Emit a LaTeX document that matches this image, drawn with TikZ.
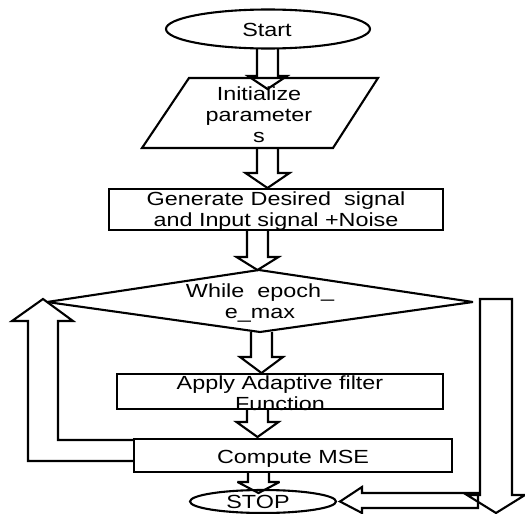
\documentclass[tikz,border=0pt]{standalone}
\usepackage{fontspec}
\setmainfont{Liberation Sans}[FakeStretch=1.23]
\usetikzlibrary{shapes.geometric}
\tikzset{
  ln/.style={line width=2.1pt, line join=miter, miter limit=4},
  shp/.style={ln, draw, inner sep=0pt, outer sep=0pt},
  txt/.style={inner sep=0pt, align=center, font=\fontsize{19}{21}\selectfont},
}
% block arrow pointing down: x, ytop, half shaft, y head base, half head, y tip
\newcommand\blkdown[6]{%
  \draw[ln] (#1-#3,#2) -- (#1-#3,#4) -- (#1-#5,#4) -- (#1,#6) -- (#1+#5,#4) -- (#1+#3,#4) -- (#1+#3,#2);}
\begin{document}
\begin{tikzpicture}[x=1pt,y=-1pt]
\useasboundingbox (0,0) rectangle (525,514);
\fill[white] (0,0) rectangle (525,514);

% shapes
\node[shp, ellipse, minimum width=204, minimum height=39] (start) at (268,29) {};
\coordinate (pa) at (189,78); \coordinate (pb) at (378,78);
\coordinate (pc) at (333,148); \coordinate (pd) at (142,148);
\draw[ln] (pa) -- (pb) -- (pc) -- (pd) -- cycle;
\node[shp, rectangle, minimum width=334, minimum height=41] (gen) at (276,209.5) {};
\coordinate (dt) at (259,270); \coordinate (dl) at (47,302);
\coordinate (db) at (260,332); \coordinate (dr) at (473,302);
\draw[ln] (dt) -- (dr) -- (db) -- (dl) -- cycle;
\node[shp, rectangle, minimum width=326, minimum height=35] (apply) at (280,391.5) {};
\node[shp, rectangle, minimum width=318, minimum height=33] (mse) at (293,455.5) {};
\node[shp, ellipse, minimum width=146, minimum height=23] (stop) at (263,501.5) {};

% texts
\node[txt] (tstart) at (267,30) {Start};
\node[txt] (tinit) at (259,114.5) {Initialize\\parameter\\s};
\node[txt] (tgen) at (276,211.5) {Generate Desired\ \ signal\\and Input signal +Noise};
\node[txt] (twhile) at (260,303) {While\ \ epoch\_\\e\_max};
\node[txt] (tapply) at (280,393.5) {Apply Adaptive filter\\Function};
\node[txt] (tmse) at (293,458.5) {Compute MSE};
\node[txt] (tstop) at (258,502) {STOP};

% block arrows down the middle
\blkdown{267.5}{48.5}{10.5}{76}{19.5}{89}
\blkdown{267.5}{148}{10.5}{173}{22}{188}
\blkdown{257.5}{230}{10.5}{257}{21}{270}
\blkdown{261.5}{332}{10.5}{357}{21.5}{373}
\blkdown{257.5}{409}{10.5}{422}{21}{437}
\blkdown{258.5}{472}{10.5}{482}{21}{493}

% loop-back arrow on the left
\draw[ln] (mse.west |- 0,461) -- (28,461) -- (28,321) -- (12,321) -- (43,299)
  -- (73,321) -- (58,321) -- (58,440) -- (mse.west |- 0,440);

% exit arrow on the right
\draw[ln] (480,299) -- (512,299) -- (512,495) -- (525,495) -- (496,513)
  -- (467,495) -- (480,495) -- cycle;

% arrow pointing to STOP
\draw[ln] (478,493) -- (362,493) -- (362,487) -- (340,501.5) -- (362,513)
  -- (362,508) -- (478,508) -- cycle;
\end{tikzpicture}
\end{document}
